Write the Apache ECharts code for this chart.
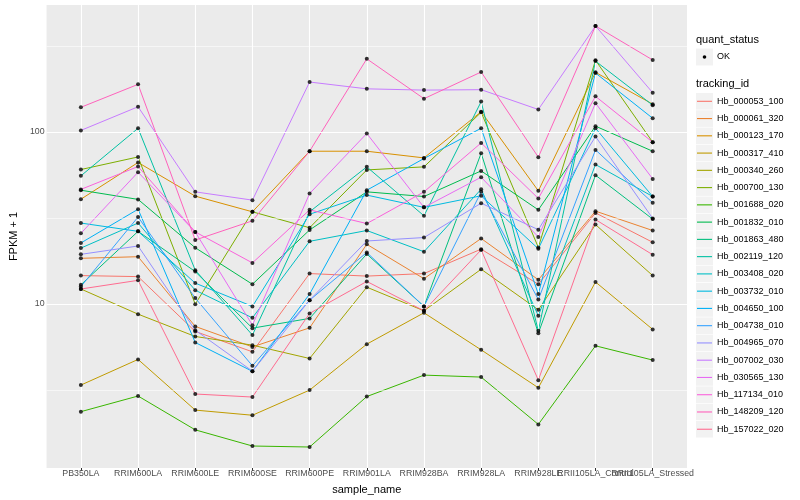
<!DOCTYPE html>
<html><head><meta charset="utf-8">
<script src="https://cdn.jsdelivr.net/npm/echarts@6/dist/echarts.min.js"></script>
<style>html,body{margin:0;padding:0;background:#fff}#c{width:800px;height:500px}</style>
</head><body><div id="c"></div>
<script>
const categories = ["PB350LA","RRIM600LA","RRIM600LE","RRIM600SE","RRIM600PE","RRIM901LA","RRIM928BA","RRIM928LA","RRIM928LE","RRII105LA_Control","RRII105LA_Stressed"];
const trackingIds = ["Hb_000053_100","Hb_000061_320","Hb_000123_170","Hb_000317_410","Hb_000340_260","Hb_000700_130","Hb_001688_020","Hb_001832_010","Hb_001863_480","Hb_002119_120","Hb_003408_020","Hb_003732_010","Hb_004650_100","Hb_004738_010","Hb_004965_070","Hb_007002_030","Hb_030565_130","Hb_117134_010","Hb_148209_120","Hb_157022_020"];
const colors = ["#F8766D","#EA8331","#D89000","#C09B00","#A3A500","#7CAE00","#39B600","#00BB4E","#00BF7D","#00C1A3","#00BFC4","#00BAE0","#00B0F6","#35A2FF","#9590FF","#C77CFF","#E76BF3","#FA62DB","#FF62BC","#FF6C90"];
const yTickValues = [10, 100];
const yMinorValues = [3.162, 31.62, 316.2];

const Hb_000053_100 = [14.6, 14.4, 6.91, 5.26, 15.0, 14.5, 15.0, 20.8, 13.0, 33.8, 22.8];
const Hb_000061_320 = [18.4, 18.8, 7.39, 5.62, 7.25, 22.2, 14.0, 24.0, 13.8, 34.6, 26.7];
const Hb_000123_170 = [40.6, 66.4, 42.3, 34.3, 77.2, 77.2, 70.6, 131, 45.4, 222, 145];
const Hb_000317_410 = [3.37, 4.75, 2.41, 2.25, 3.15, 5.83, 8.87, 5.40, 3.25, 13.4, 7.10];
const Hb_000340_260 = [12.2, 8.71, 6.46, 5.75, 4.81, 12.5, 9.11, 15.9, 9.23, 28.9, 14.6];
const Hb_000700_130 = [60.4, 71.5, 9.96, 34.3, 27.7, 60.1, 62.6, 130, 21.3, 261, 87.1];
const Hb_001688_020 = [2.36, 2.91, 1.85, 1.49, 1.47, 2.89, 3.85, 3.75, 1.99, 5.70, 4.71];
const Hb_001832_010 = [45.8, 40.5, 21.2, 13.0, 26.9, 44.8, 42.1, 59.3, 35.2, 108, 77.2];
const Hb_001863_480 = [12.9, 26.4, 15.4, 7.22, 8.23, 19.5, 9.66, 75.2, 6.75, 56.0, 31.1];
const Hb_002119_120 = [55.5, 105, 15.7, 6.58, 34.3, 62.6, 32.5, 150, 6.97, 258, 143];
const Hb_003408_020 = [21.1, 29.5, 12.0, 8.29, 23.1, 26.7, 20.1, 46.4, 8.52, 64.6, 42.1];
const Hb_003732_010 = [29.5, 26.4, 13.2, 9.66, 33.2, 42.9, 36.4, 42.5, 20.9, 105, 42.1];
const Hb_004650_100 = [22.6, 35.5, 5.96, 4.05, 11.4, 45.8, 70.0, 105, 11.4, 220, 120];
const Hb_004738_010 = [12.6, 32.0, 10.8, 4.36, 10.5, 19.9, 9.66, 44.8, 10.6, 78.6, 38.7];
const Hb_004965_070 = [19.4, 21.7, 7.03, 4.06, 10.5, 23.2, 24.3, 38.5, 27.0, 94.0, 31.4];
const Hb_007002_030 = [102, 140, 44.8, 40.1, 195, 178, 175, 176, 135, 413, 169];
const Hb_030565_130 = [25.7, 58.3, 26.2, 7.52, 43.8, 97.9, 36.4, 54.5, 24.5, 147, 53.3];
const Hb_117134_010 = [46.3, 62.9, 26.2, 17.3, 35.2, 29.3, 44.8, 86.3, 41.0, 161, 87.1];
const Hb_148209_120 = [139, 189, 23.5, 30.4, 77.2, 266, 156, 223, 71.3, 413, 262];
const Hb_157022_020 = [12.2, 13.7, 2.99, 2.87, 8.80, 13.5, 9.11, 20.6, 3.60, 30.9, 19.3];

const seriesValues = [Hb_000053_100, Hb_000061_320, Hb_000123_170, Hb_000317_410, Hb_000340_260, Hb_000700_130, Hb_001688_020, Hb_001832_010, Hb_001863_480, Hb_002119_120, Hb_003408_020, Hb_003732_010, Hb_004650_100, Hb_004738_010, Hb_004965_070, Hb_007002_030, Hb_030565_130, Hb_117134_010, Hb_148209_120, Hb_157022_020];

const FONT = '"Liberation Sans", Arial, Helvetica, sans-serif';
const catIdx = categories.map((c, i) => i);
// label groups on separate overlaid axes so the two overlapping end labels both stay visible (as in the reference)
const labelGroups = [catIdx.slice(0, -2), [catIdx.length - 2], [catIdx.length - 1]];

const chart = echarts.init(document.getElementById('c'), null, {renderer: 'canvas'});

const lines = seriesValues.map((vals, k) => ({
  name: trackingIds[k], type: 'line', silent: true, animation: false,
  data: vals.map((v, i) => [i, v]), showSymbol: false, symbol: 'none',
  lineStyle: {color: colors[k], width: 1}, itemStyle: {color: colors[k]}, z: 3
}));

const points = [];
seriesValues.forEach(vals => vals.forEach((v, i) => points.push([i, v])));

const gridSeries = {
  type: 'line', data: [], silent: true, animation: false, z: 1, symbol: 'none',
  markLine: {
    silent: true, symbol: 'none', animation: false, label: {show: false},
    data: [
      ...catIdx.map(i => ({xAxis: i, lineStyle: {color: '#FFFFFF', width: 1.1, type: 'solid'}})),
      ...yTickValues.map(v => ({yAxis: v, lineStyle: {color: '#FFFFFF', width: 1.1, type: 'solid'}})),
      ...yMinorValues.map(v => ({yAxis: v, lineStyle: {color: '#FFFFFF', width: 0.55, type: 'solid'}}))
    ]
  }
};

// legend drawn as graphics
const legendEls = [];
const LX = 696;
legendEls.push({type: 'text', left: LX, top: 34, style: {text: 'quant_status', font: '11px ' + FONT, fill: '#000'}});
legendEls.push({type: 'rect', shape: {x: LX, y: 48.5, width: 17, height: 17}, style: {fill: '#F2F2F2'}});
legendEls.push({type: 'circle', shape: {cx: LX + 8.5, cy: 57, r: 1.8}, style: {fill: '#000'}});
legendEls.push({type: 'text', x: LX + 21, y: 57, style: {text: 'OK', font: '9px ' + FONT, fill: '#000', verticalAlign: 'middle'}});
legendEls.push({type: 'text', left: LX, top: 78, style: {text: 'tracking_id', font: '11px ' + FONT, fill: '#000'}});
trackingIds.forEach((id, k) => {
  const cy = 101.3 + k * 17.26;
  legendEls.push({type: 'rect', shape: {x: LX, y: cy - 8.3, width: 17, height: 16.6}, style: {fill: '#F2F2F2'}});
  legendEls.push({type: 'line', shape: {x1: LX + 1, y1: cy, x2: LX + 16, y2: cy}, style: {stroke: colors[k], lineWidth: 1.1}});
  legendEls.push({type: 'text', x: LX + 21, y: cy, style: {text: id, font: '9px ' + FONT, fill: '#000', verticalAlign: 'middle'}});
});

const xAxes = labelGroups.map((grp, g) => {
  const ax = {
    type: 'value', min: -0.6, max: 10.6, position: 'bottom', offset: 0,
    axisLine: {show: false},
    axisTick: {show: true, length: 3, customValues: grp, lineStyle: {color: '#333333', width: 1}},
    axisLabel: {customValues: grp, formatter: v => categories[Math.round(v)], margin: 1, fontFamily: FONT, fontSize: 8.8, color: '#4D4D4D', hideOverlap: false},
    splitLine: {show: false}
  };
  if (g === 0) {
    ax.name = 'sample_name'; ax.nameLocation = 'middle'; ax.nameGap = 16;
    ax.nameTextStyle = {fontFamily: FONT, fontSize: 11, color: '#000'};
  }
  return ax;
});

chart.setOption({
  animation: false,
  backgroundColor: '#FFFFFF',
  grid: {left: 40, right: 113, top: 5, bottom: 32, show: true, backgroundColor: '#EBEBEB', borderWidth: 0},
  xAxis: xAxes,
  yAxis: {
    type: 'log', logBase: 10, min: 1.11, max: 547,
    name: 'FPKM + 1', nameLocation: 'middle', nameGap: 25, nameRotate: 90,
    nameTextStyle: {fontFamily: FONT, fontSize: 11, color: '#000'},
    axisLine: {show: false},
    axisTick: {show: true, length: 3, customValues: yTickValues, lineStyle: {color: '#333333', width: 1}},
    axisLabel: {customValues: yTickValues, margin: 2, fontFamily: FONT, fontSize: 8.8, color: '#4D4D4D'},
    splitLine: {show: false}, minorSplitLine: {show: false}
  },
  series: [
    gridSeries,
    ...lines,
    {type: 'scatter', name: 'OK', data: points, symbol: 'circle', symbolSize: 4, itemStyle: {color: '#000000'}, silent: true, z: 5, animation: false}
  ],
  graphic: legendEls
});
</script>
</body></html>
